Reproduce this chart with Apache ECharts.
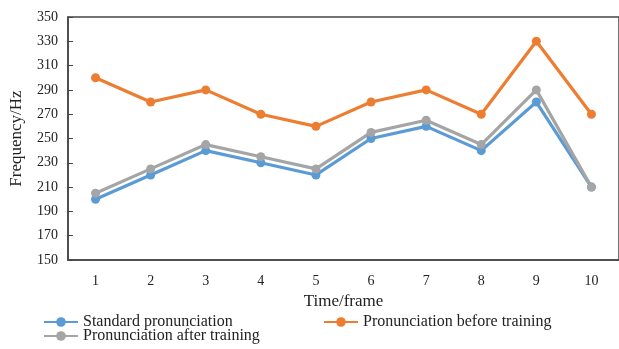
<!DOCTYPE html>
<html>
<head>
<meta charset="utf-8">
<script src="https://cdn.jsdelivr.net/npm/echarts@6/dist/echarts.min.js"></script>
<style>html,body{margin:0;padding:0;background:#fff;}#c{width:619px;height:349px;}</style>
</head>
<body>
<div id="c"></div>
<script>
const categories = ['1','2','3','4','5','6','7','8','9','10'];
const standard = [200, 220, 240, 230, 220, 250, 260, 240, 280, 210];
const beforeTraining = [300, 280, 290, 270, 260, 280, 290, 270, 330, 270];
const afterTraining = [205, 225, 245, 235, 225, 255, 265, 245, 290, 210];
const yTicks = [150, 170, 190, 210, 230, 250, 270, 290, 310, 330, 350];
const seriesNames = ['Standard pronunciation', 'Pronunciation before training', 'Pronunciation after training'];

const font = 'Liberation Serif';
const chart = echarts.init(document.getElementById('c'), null, {renderer: 'canvas'});
const mk = (name, data, color) => ({
  name, type: 'line', data,
  symbol: 'circle', symbolSize: 9,
  lineStyle: {color, width: 3.2},
  itemStyle: {color},
  emphasis: {disabled: true},
  animation: false
});
const legendBase = {
  orient: 'horizontal', padding: 0, itemWidth: 34, itemHeight: 12, itemGap: 10,
  textStyle: {fontFamily: font, fontSize: 16, color: '#222'}
};
chart.setOption({
  backgroundColor: '#fff',
  animation: false,
  grid: {left: 65, top: 17, right: -3, bottom: 89, show: true, borderColor: '#444', borderWidth: 1.5, backgroundColor: 'transparent'},
  legend: [
    Object.assign({}, legendBase, {data: [seriesNames[0]], left: 43, top: 314}),
    Object.assign({}, legendBase, {data: [seriesNames[1]], left: 323, top: 314}),
    Object.assign({}, legendBase, {data: [seriesNames[2]], left: 43, top: 328})
  ],
  xAxis: {
    type: 'category', data: categories, boundaryGap: true,
    name: 'Time/frame', nameLocation: 'middle', nameGap: 31,
    nameTextStyle: {fontFamily: font, fontSize: 17, color: '#222'},
    axisLine: {lineStyle: {color: '#444', width: 1.5}},
    axisTick: {inside: true, length: 5, lineStyle: {color: '#444', width: 1}},
    axisLabel: {fontFamily: font, fontSize: 14, color: '#222', margin: 14},
    splitLine: {show: false}
  },
  yAxis: {
    type: 'value', min: 150, max: 350,
    name: 'Frequency/Hz', nameLocation: 'middle', nameGap: 43, nameRotate: 90,
    nameTextStyle: {fontFamily: font, fontSize: 17, color: '#222'},
    axisLine: {show: true, lineStyle: {color: '#444', width: 1.5}},
    axisTick: {show: true, inside: true, length: 5, customValues: yTicks, lineStyle: {color: '#444', width: 1}},
    axisLabel: {fontFamily: font, fontSize: 14, color: '#222', margin: 10, customValues: yTicks},
    splitLine: {show: false}
  },
  series: [
    mk(seriesNames[0], standard, '#5B9BD5'),
    mk(seriesNames[1], beforeTraining, '#ED7D31'),
    mk(seriesNames[2], afterTraining, '#A5A5A5')
  ]
});
</script>
</body>
</html>
